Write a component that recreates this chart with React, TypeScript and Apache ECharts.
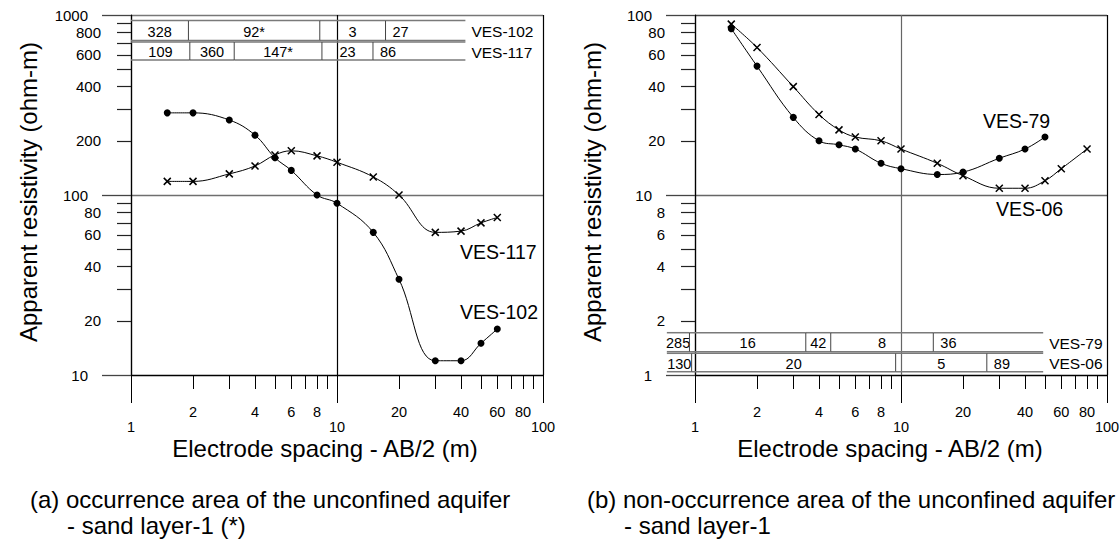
import { useEffect, useRef } from "react";
import * as echarts from "echarts";

const FONT = '"Liberation Sans", Arial, Helvetica, sans-serif';

// ---------- Panel (a) sounding curves ----------
const AB2_A = [1.5, 2, 3, 4, 5, 6, 8, 10, 15, 20, 30, 40, 50, 60];
const RHO_VES102 = [286, 286, 261, 215, 161, 137, 100, 90, 62, 34, 12, 12, 15, 18];
const RHO_VES117 = [119, 119, 131, 145, 167, 176, 165, 152, 126, 100, 62, 63, 70, 75];

// ---------- Panel (b) sounding curves ----------
const AB2_VES79 = [1.5, 2, 3, 4, 5, 6, 8, 10, 15, 20, 30, 40, 50];
const RHO_VES79 = [84, 52, 27, 20, 19, 18, 15, 14, 13, 13.4, 16, 18, 21];
const AB2_VES06 = [1.5, 2, 3, 4, 5, 6, 8, 10, 15, 20, 30, 40, 50, 60, 80];
const RHO_VES06 = [89, 66, 40, 28, 23, 21, 20, 18, 15, 12.8, 10.9, 10.9, 12, 14, 18];

// ---------- Axis ticks / labels ----------
const X_MINOR = [2, 3, 4, 5, 6, 7, 8, 9, 20, 30, 40, 50, 60, 70, 80, 90];
const X_MAJOR = [1, 10, 100];
const X_LABELS = [1, 2, 4, 6, 8, 10, 20, 40, 60, 80, 100];

const YA_MINOR = [20, 30, 40, 50, 60, 70, 80, 90, 200, 300, 400, 500, 600, 700, 800, 900];
const YA_MAJOR = [10, 100, 1000];
const YA_LABELS = [10, 20, 40, 60, 80, 100, 200, 400, 600, 800, 1000];

const YB_MINOR = [2, 3, 4, 5, 6, 7, 8, 9, 20, 30, 40, 50, 60, 70, 80, 90];
const YB_MAJOR = [1, 10, 100];
const YB_LABELS = [1, 2, 4, 6, 8, 10, 20, 40, 60, 80, 100];

const DECADES = [1, 10, 100, 1000];

// ---------- Layer tables (boundaries in AB/2 units, resistivities) ----------
const TABLE_A_NAMES = ["VES-102", "VES-117"];
const TABLE_A_BOUNDS = [
  [1, 1.9, 8.25, 17.2, 42],
  [1, 1.93, 3.17, 8.45, 14.95, 42],
];
const TABLE_A_LAYERS = [
  ["328", "92*", "3", "27"],
  ["109", "360", "147*", "23", "86"],
];

const TABLE_B_NAMES = ["VES-79", "VES-06"];
const TABLE_B_BOUNDS = [
  [0.73, 0.94, 3.45, 4.56, 14.35, 49],
  [0.73, 0.963, 9.42, 26.1, 49],
];
const TABLE_B_LAYERS = [
  ["285", "16", "42", "8", "36"],
  ["130", "20", "5", "89"],
];

const isDecade = (v: number) => DECADES.indexOf(Math.round(v)) >= 0;

function xAxes(grid: number, splitColors: string[]) {
  return [
    {
      type: "log",
      logBase: 10,
      gridIndex: grid,
      position: "bottom",
      min: 1,
      max: 100,
      axisLine: { show: true, onZero: false, lineStyle: { color: "#000", width: 1 } },
      axisTick: { show: true, customValues: X_MINOR, length: 14, lineStyle: { color: "#000", width: 1 } },
      axisLabel: {
        show: true,
        customValues: X_LABELS,
        margin: 29,
        color: "#000",
        fontSize: 14.5,
        fontFamily: FONT,
        formatter: (v: number) => (isDecade(v) ? `{d|${Math.round(v)}}` : `{m|${Math.round(v)}}`),
        rich: {
          d: { padding: [15, 0, 0, 0], fontSize: 14.5, fontFamily: FONT, color: "#000" },
          m: { fontSize: 14.5, fontFamily: FONT, color: "#000" },
        },
      },
      splitLine: { show: false },
    },
    {
      type: "log",
      logBase: 10,
      gridIndex: grid,
      position: "bottom",
      min: 1,
      max: 100,
      axisLine: { show: false },
      axisTick: { show: true, customValues: X_MAJOR, length: 28, lineStyle: { color: "#000", width: 1 } },
      axisLabel: { show: false },
      splitLine: { show: true, lineStyle: { color: splitColors, width: 1.2 } },
    },
  ];
}

function yAxes(grid: number, min: number, max: number, minor: number[], major: number[], labels: number[], splitColors: string[]) {
  return [
    {
      type: "log",
      logBase: 10,
      gridIndex: grid,
      position: "left",
      min,
      max,
      axisLine: { show: true, onZero: false, lineStyle: { color: "#000", width: 1.2 } },
      axisTick: { show: true, customValues: minor, length: 14, lineStyle: { color: "#222", width: 1.2 } },
      axisLabel: {
        show: true,
        customValues: labels,
        margin: 30,
        color: "#000",
        fontSize: 15,
        fontFamily: FONT,
        formatter: (v: number) => (isDecade(v) ? `{d|${Math.round(v)}}` : `{m|${Math.round(v)}}`),
        rich: {
          d: { padding: [0, 13, 0, 0], fontSize: 15, fontFamily: FONT, color: "#000" },
          m: { fontSize: 15, fontFamily: FONT, color: "#000" },
        },
      },
      splitLine: { show: false },
    },
    {
      type: "log",
      logBase: 10,
      gridIndex: grid,
      position: "left",
      min,
      max,
      axisLine: { show: false },
      axisTick: { show: true, customValues: major, length: 29, lineStyle: { color: "#444", width: 1.3 } },
      axisLabel: { show: false },
      splitLine: { show: true, lineStyle: { color: splitColors, width: 1.4 } },
    },
  ];
}

function tableSeries(
  axisIdx: number,
  names: string[],
  bounds: number[][],
  layers: string[][],
  rowBands: number[][],
  anchor: "top" | "bottom",
  yRef: number
) {
  const data: number[][] = [];
  bounds.forEach((b, r) => {
    for (let c = 0; c < b.length - 1; c++) data.push([b[c], b[c + 1], r + 1, c]);
  });
  return {
    type: "custom",
    coordinateSystem: "cartesian2d",
    xAxisIndex: axisIdx,
    yAxisIndex: axisIdx,
    encode: { x: [0, 1], y: 2 },
    clip: false,
    silent: true,
    z: 3,
    data,
    renderItem: (params: any, api: any) => {
      const x0 = api.value(0);
      const x1 = api.value(1);
      const r = api.value(2) - 1;
      const c = api.value(3);
      const cs = params.coordSys;
      const base = anchor === "top" ? cs.y : cs.y + cs.height;
      const yt = base + rowBands[r][0];
      const yb = base + rowBands[r][1];
      const p0 = api.coord([x0, yRef])[0];
      const p1 = api.coord([x1, yRef])[0];
      const last = c === layers[r].length - 1;
      const lineStyle = { stroke: "#7a7a7a", lineWidth: 1.5 };
      const children: any[] = [
        { type: "line", shape: { x1: p0, y1: yt, x2: p1, y2: yt }, style: lineStyle },
        { type: "line", shape: { x1: p0, y1: yb, x2: p1, y2: yb }, style: lineStyle },
      ];
      if (c > 0) {
        children.push({
          type: "line",
          shape: { x1: p0, y1: yt, x2: p0, y2: yb },
          style: { stroke: "#444", lineWidth: 1 },
        });
      }
      children.push({
        type: "text",
        x: last ? p0 + 7 : (p0 + p1) / 2,
        y: (yt + yb) / 2 + 1,
        style: {
          text: layers[r][c],
          fontSize: 14.5,
          fontFamily: FONT,
          fill: "#000",
          textAlign: last ? "left" : "center",
          textVerticalAlign: "middle",
        },
      });
      if (last) {
        children.push({
          type: "text",
          x: p1 + 6,
          y: (yt + yb) / 2 + 1,
          style: {
            text: names[r],
            fontSize: 15.5,
            fontFamily: FONT,
            fill: "#000",
            textAlign: "left",
            textVerticalAlign: "middle",
          },
        });
      }
      return { type: "group", children };
    },
  };
}

const X_SYMBOL = "path://M0,0L10,10M10,0L0,10";

function dotSeries(axisIdx: number, xs: number[], ys: number[]) {
  return {
    type: "line",
    xAxisIndex: axisIdx,
    yAxisIndex: axisIdx,
    data: xs.map((x, i) => [x, ys[i]]),
    smooth: 0.4,
    symbol: "circle",
    symbolSize: 7,
    showAllSymbol: true,
    lineStyle: { color: "#000", width: 1 },
    itemStyle: { color: "#000" },
    z: 5,
    silent: true,
  };
}

function crossSeries(axisIdx: number, xs: number[], ys: number[]) {
  return {
    type: "line",
    xAxisIndex: axisIdx,
    yAxisIndex: axisIdx,
    data: xs.map((x, i) => [x, ys[i]]),
    smooth: 0.4,
    symbol: X_SYMBOL,
    symbolSize: 7,
    showAllSymbol: true,
    lineStyle: { color: "#000", width: 1 },
    itemStyle: { color: "none", borderColor: "#000", borderWidth: 1.5 },
    z: 5,
    silent: true,
  };
}

function txt(x: number, y: number, text: string, size: number, align = "left", rotation = 0) {
  return {
    type: "text",
    x,
    y,
    rotation,
    silent: true,
    style: {
      text,
      fontSize: size,
      fontFamily: FONT,
      fill: "#000",
      textAlign: align,
      textVerticalAlign: "middle",
    },
  };
}

export default function App() {
  const ref = useRef<HTMLDivElement>(null);

  useEffect(() => {
    if (!ref.current) return;
    const chart = echarts.init(ref.current, null, { renderer: "svg" });
    const option: any = {
      animation: false,
      backgroundColor: "#fff",
      grid: [
        { left: 131, top: 15, width: 412, height: 360, outerBoundsMode: "none" },
        { left: 695, top: 15, width: 412, height: 360, outerBoundsMode: "none" },
      ],
      xAxis: [...xAxes(0, ["#000", "#000", "#000"]), ...xAxes(1, ["#000", "#666", "#000"])],
      yAxis: [
        ...yAxes(0, 10, 1000, YA_MINOR, YA_MAJOR, YA_LABELS, ["#000", "#6f6f6f", "#777"]),
        ...yAxes(1, 1, 100, YB_MINOR, YB_MAJOR, YB_LABELS, ["#000", "#666", "#444"]),
      ],
      series: [
        tableSeries(0, TABLE_A_NAMES, TABLE_A_BOUNDS, TABLE_A_LAYERS, [[5.5, 25.5], [27, 45]], "top", 100),
        tableSeries(2, TABLE_B_NAMES, TABLE_B_BOUNDS, TABLE_B_LAYERS, [[-42.3, -23.3], [-21.7, -3.3]], "bottom", 10),
        dotSeries(0, AB2_A, RHO_VES102),
        crossSeries(0, AB2_A, RHO_VES117),
        dotSeries(2, AB2_VES79, RHO_VES79),
        crossSeries(2, AB2_VES06, RHO_VES06),
      ],
      graphic: [
        txt(325, 448, "Electrode spacing - AB/2 (m)", 24, "center"),
        txt(890, 448, "Electrode spacing - AB/2 (m)", 24, "center"),
        txt(28, 192, "Apparent resistivity (ohm-m)", 24, "center", Math.PI / 2),
        txt(592, 192, "Apparent resistivity (ohm-m)", 24, "center", Math.PI / 2),
        txt(30, 499, "(a) occurrence area of the unconfined aquifer", 24),
        txt(67, 525, "- sand layer-1 (*)", 24),
        txt(587, 499, "(b) non-occurrence area of the unconfined aquifer", 24),
        txt(624, 525, "- sand layer-1", 24),
        txt(460, 252, "VES-117", 19.5),
        txt(460, 312, "VES-102", 19.5),
        txt(983, 121, "VES-79", 19.5),
        txt(996, 209, "VES-06", 19.5),
      ],
    };
    chart.setOption(option);
    return () => chart.dispose();
  }, []);

  return (
    <div
      ref={ref}
      style={{ position: "absolute", left: 0, top: 0, width: 1120, height: 543, background: "#fff" }}
    />
  );
}
